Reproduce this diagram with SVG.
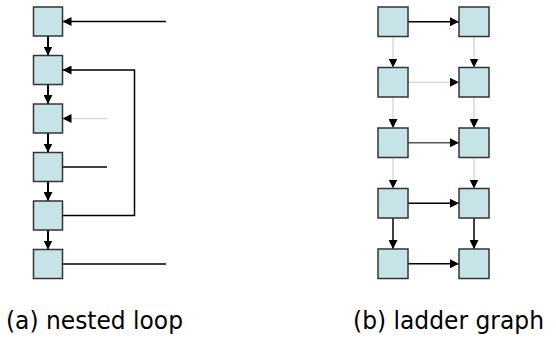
<svg xmlns="http://www.w3.org/2000/svg" width="556" height="349" viewBox="0 0 556 349">
<defs>
<marker id="ah" markerUnits="userSpaceOnUse" markerWidth="10" markerHeight="9" refX="9" refY="4.5" orient="auto">
<path d="M0,0 L9,4.5 L0,9 Z" fill="#000"/>
</marker>
<style>
.box{fill:#c6e4e8;stroke:#333;stroke-width:1.5}
.e{fill:none;stroke:#000;stroke-width:1.5}
.v{fill:none;stroke:#000;stroke-width:2}
.lg{fill:none;stroke:#d9d9d9;stroke-width:1.5}
.dg{fill:none;stroke:#555;stroke-width:1.5}
.arr{marker-end:url(#ah)}
.lbl{font-family:"DejaVu Sans",Verdana,sans-serif;font-size:24px;fill:#000}
</style>
</defs>
<g id="connectors">
<line class="e arr" x1="166" y1="21.5" x2="62.5" y2="21.5"/>
<line class="v arr" x1="48" y1="36" x2="48" y2="55.5"/>
<line class="v arr" x1="48" y1="84.5" x2="48" y2="104"/>
<line class="v arr" x1="48" y1="133" x2="48" y2="152.5"/>
<line class="v arr" x1="48" y1="181.5" x2="48" y2="201"/>
<line class="v arr" x1="48" y1="230" x2="48" y2="249.5"/>
<polyline class="e arr" points="62.5,215.5 134.5,215.5 134.5,70 62.5,70"/>
<line class="lg arr" x1="107" y1="118.5" x2="62.5" y2="118.5"/>
<line class="e" x1="62.5" y1="167" x2="107" y2="167"/>
<line class="e" x1="62.5" y1="264" x2="166" y2="264"/>
<line class="e arr" x1="408" y1="21.75" x2="459" y2="21.75"/>
<line class="lg arr" x1="408" y1="82.25" x2="459" y2="82.25"/>
<line class="dg arr" x1="408" y1="142.75" x2="459" y2="142.75"/>
<line class="e arr" x1="408" y1="203.25" x2="459" y2="203.25" stroke="#333"/>
<line class="e arr" x1="408" y1="263.75" x2="459" y2="263.75"/>
<line class="lg arr" x1="393" y1="36.5" x2="393" y2="67.5"/>
<line class="lg arr" x1="474" y1="36.5" x2="474" y2="67.5"/>
<line class="lg arr" x1="393" y1="97" x2="393" y2="128"/>
<line class="lg arr" x1="474" y1="97" x2="474" y2="128"/>
<line class="lg arr" x1="393" y1="157.5" x2="393" y2="188.5"/>
<line class="lg arr" x1="474" y1="157.5" x2="474" y2="188.5"/>
<line class="e arr" x1="393" y1="218" x2="393" y2="249"/>
<line class="e arr" x1="474" y1="218" x2="474" y2="249"/>
</g>
<g id="a1"><rect class="box" x="33.5" y="7" width="29" height="29"/></g>
<g id="a2"><rect class="box" x="33.5" y="55.5" width="29" height="29"/></g>
<g id="a3"><rect class="box" x="33.5" y="104" width="29" height="29"/></g>
<g id="a4"><rect class="box" x="33.5" y="152.5" width="29" height="29"/></g>
<g id="a5"><rect class="box" x="33.5" y="201" width="29" height="29"/></g>
<g id="a6"><rect class="box" x="33.5" y="249.5" width="29" height="29"/></g>
<g id="l1"><rect class="box" x="378" y="7" width="30" height="29.5"/></g>
<g id="r1"><rect class="box" x="459" y="7" width="30" height="29.5"/></g>
<g id="l2"><rect class="box" x="378" y="67.5" width="30" height="29.5"/></g>
<g id="r2"><rect class="box" x="459" y="67.5" width="30" height="29.5"/></g>
<g id="l3"><rect class="box" x="378" y="128" width="30" height="29.5"/></g>
<g id="r3"><rect class="box" x="459" y="128" width="30" height="29.5"/></g>
<g id="l4"><rect class="box" x="378" y="188.5" width="30" height="29.5"/></g>
<g id="r4"><rect class="box" x="459" y="188.5" width="30" height="29.5"/></g>
<g id="l5"><rect class="box" x="378" y="249" width="30" height="29.5"/></g>
<g id="r5"><rect class="box" x="459" y="249" width="30" height="29.5"/></g>
<g id="labels">
<text class="lbl" x="6" y="329" textLength="177" lengthAdjust="spacingAndGlyphs">(a) nested loop</text>
<text class="lbl" x="353" y="329" textLength="191" lengthAdjust="spacingAndGlyphs">(b) ladder graph</text>
</g>
</svg>
